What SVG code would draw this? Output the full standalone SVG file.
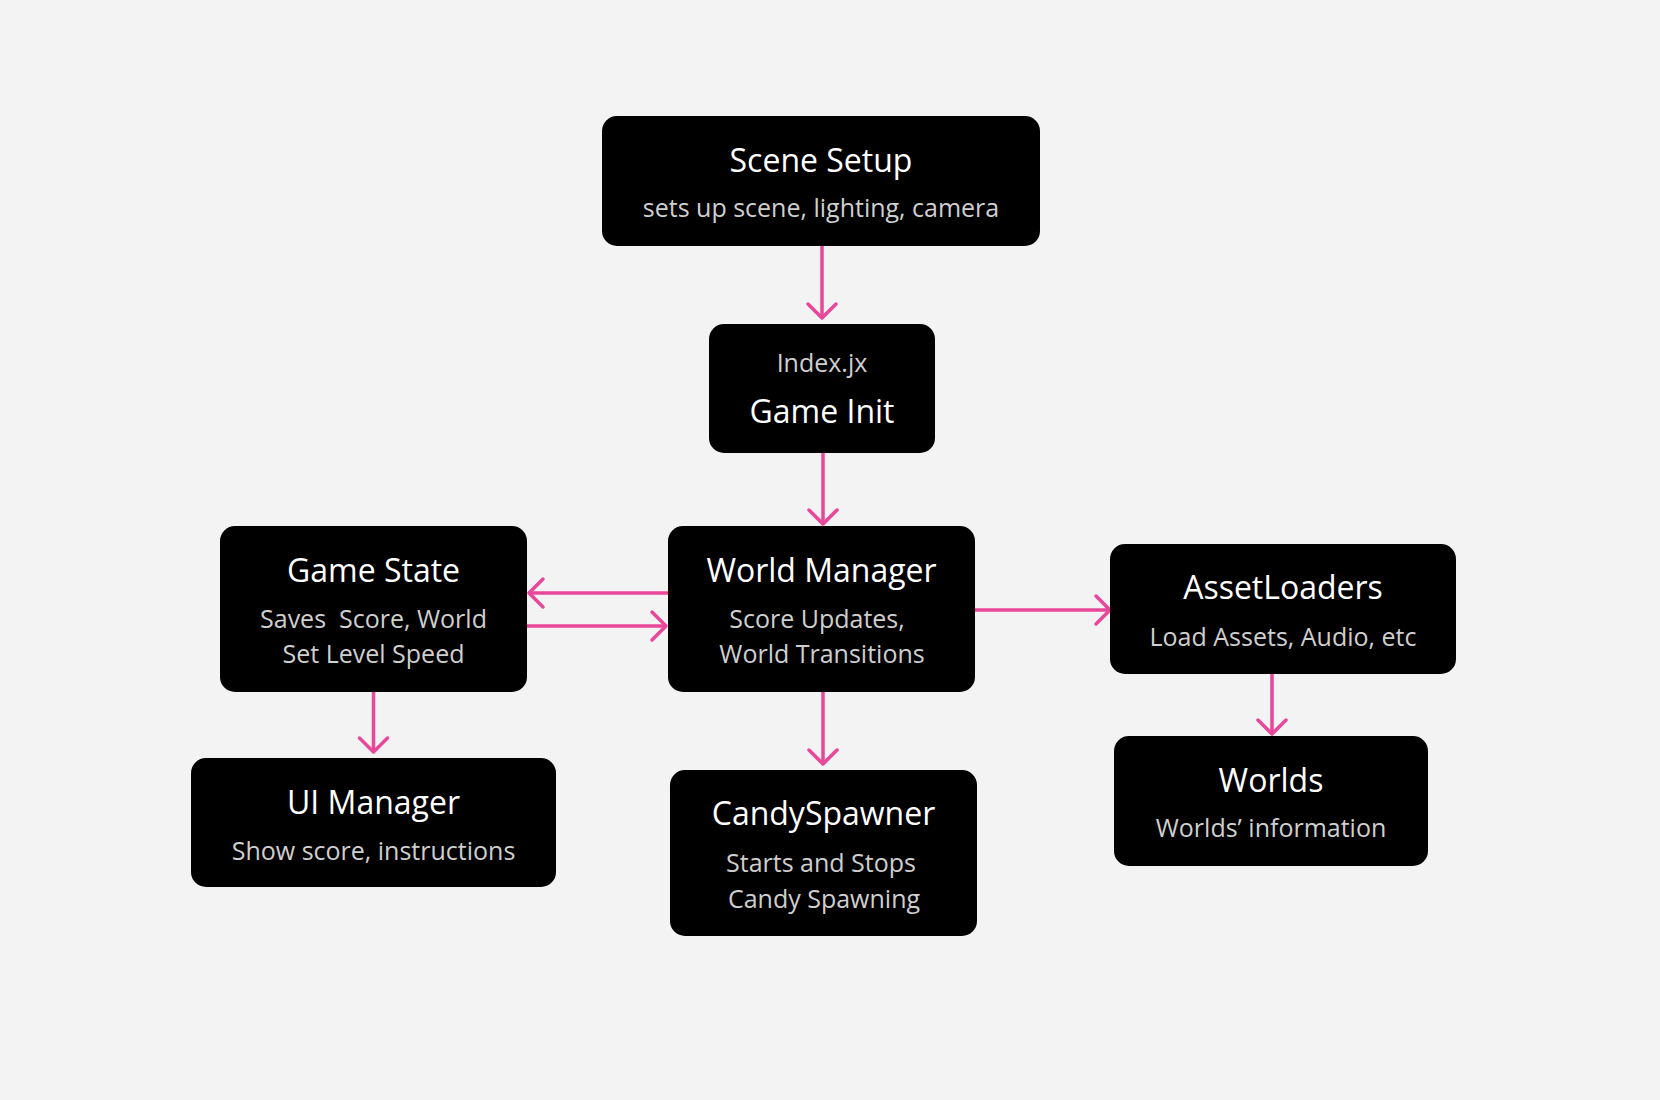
<svg xmlns="http://www.w3.org/2000/svg" width="1660" height="1100" viewBox="0 0 1660 1100">
<defs>
<style>
.box{fill:#000;}
.t{font-family:"Open Sans","Noto Sans","Liberation Sans",sans-serif;font-size:32px;fill:#fff;text-anchor:middle;}
.s{font-family:"Open Sans","Noto Sans","Liberation Sans",sans-serif;font-size:25px;fill:#cfcfcf;text-anchor:middle;white-space:pre;}
.c{stroke:#e9479a;stroke-width:3.5;fill:none;marker-end:url(#ah);}
</style>
<marker id="ah" markerUnits="userSpaceOnUse" markerWidth="40" markerHeight="40" viewBox="-20 -20 40 40" refX="0" refY="0" orient="auto">
<path d="M-14,-14 L0,0 L-14,14" fill="none" stroke="#e9479a" stroke-width="3.5" stroke-linecap="round" stroke-linejoin="round"/>
</marker>
</defs>
<rect width="1660" height="1100" fill="#f3f3f3"/>
<g id="connectors">
<line class="c" x1="822" y1="246" x2="822" y2="318"/>
<line class="c" x1="823" y1="453" x2="823" y2="524"/>
<line class="c" x1="668" y1="593" x2="529" y2="593"/>
<line class="c" x1="527" y1="626" x2="666" y2="626"/>
<line class="c" x1="970" y1="610" x2="1110" y2="610"/>
<line class="c" x1="1272" y1="674" x2="1272" y2="734"/>
<line class="c" x1="373.5" y1="692" x2="373.5" y2="752"/>
<line class="c" x1="823" y1="692" x2="823" y2="764"/>
</g>
<g id="scene-setup">
<rect class="box" x="602" y="116" width="438" height="130" rx="15"/>
<text class="t" x="821" y="172">Scene Setup</text>
<text class="s" x="821" y="217">sets up scene, lighting, camera</text>
</g>
<g id="game-init">
<rect class="box" x="709" y="324" width="226" height="129" rx="15"/>
<text class="s" x="822" y="372">Index.jx</text>
<text class="t" x="822" y="423">Game Init</text>
</g>
<g id="game-state">
<rect class="box" x="220" y="526" width="307" height="166" rx="15"/>
<text class="t" x="373.5" y="582">Game State</text>
<text class="s" x="373.5" y="628">Saves  Score, World</text>
<text class="s" x="373.5" y="663">Set Level Speed</text>
</g>
<g id="world-manager">
<rect class="box" x="668" y="526" width="307" height="166" rx="15"/>
<text class="t" x="821.5" y="582">World Manager</text>
<text class="s" x="817" y="628">Score Updates,</text>
<text class="s" x="822" y="663">World Transitions</text>
</g>
<g id="asset-loaders">
<rect class="box" x="1110" y="544" width="346" height="130" rx="15"/>
<text class="t" x="1283" y="599">AssetLoaders</text>
<text class="s" x="1283" y="646">Load Assets, Audio, etc</text>
</g>
<g id="worlds">
<rect class="box" x="1114" y="736" width="314" height="130" rx="15"/>
<text class="t" x="1271" y="792">Worlds</text>
<text class="s" x="1271" y="837">Worlds’ information</text>
</g>
<g id="ui-manager">
<rect class="box" x="191" y="758" width="365" height="129" rx="15"/>
<text class="t" x="373.5" y="814">UI Manager</text>
<text class="s" x="373.5" y="860">Show score, instructions</text>
</g>
<g id="candy-spawner">
<rect class="box" x="670" y="770" width="307" height="166" rx="15"/>
<text class="t" x="823.5" y="825">CandySpawner</text>
<text class="s" x="821" y="872">Starts and Stops</text>
<text class="s" x="824" y="908">Candy Spawning</text>
</g>
</svg>
